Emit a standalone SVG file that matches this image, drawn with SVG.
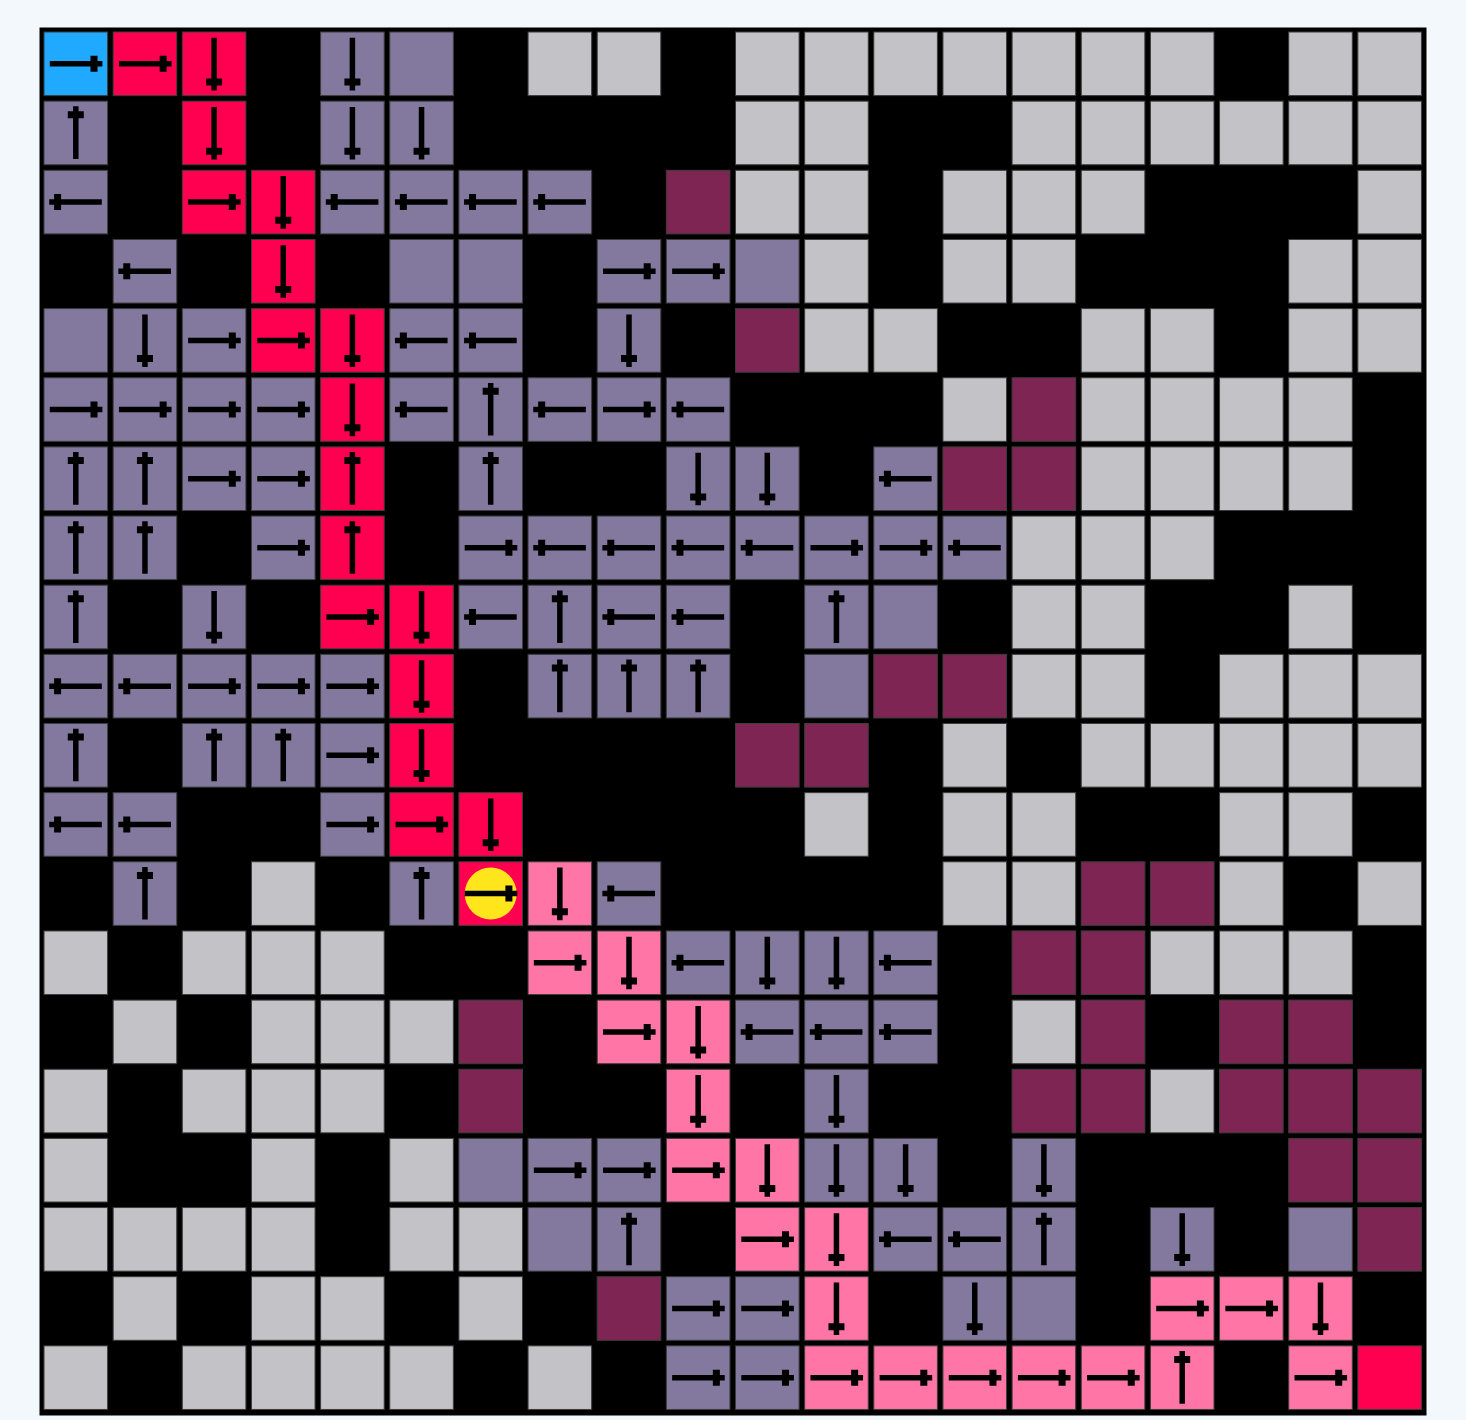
<svg xmlns="http://www.w3.org/2000/svg" xmlns:xlink="http://www.w3.org/1999/xlink" width="1466" height="1420" viewBox="0 0 1466 1420">
<style>
rect.c{stroke:#3c3c3c;stroke-width:1}
.b{fill:#1fa9ff}.r{fill:#ff0050}.p{fill:#83789d}.g{fill:#c3c3c7}.m{fill:#7f2553}.k{fill:#ff76a6}
.ar{fill:#000}
</style>
<defs>
<path id="R" class="ar" d="M5.8,29.05h52.6v5.5h-52.6z M46.5,23.8h7v16h-7z"/>
<g id="D"><use href="#R" transform="rotate(90 31.8 31.8)"/></g>
<g id="L"><use href="#R" transform="rotate(180 31.8 31.8)"/></g>
<g id="U"><use href="#R" transform="rotate(-90 31.8 31.8)"/></g>
</defs>
<rect x="0" y="0" width="1466" height="1420" fill="#f3f8fd"/>
<rect x="39.5" y="27.5" width="1387" height="1388" fill="#000"/>
<g id="grid">
<g id="row0" transform="translate(0 32)">
<g id="r0c0" transform="translate(44 0)"><rect class="c b" width="63.6" height="63.6"/><use href="#R"/></g>
<g id="r0c1" transform="translate(113.15 0)"><rect class="c r" width="63.6" height="63.6"/><use href="#R"/></g>
<g id="r0c2" transform="translate(182.3 0)"><rect class="c r" width="63.6" height="63.6"/><use href="#D"/></g>
<g id="r0c4" transform="translate(320.6 0)"><rect class="c p" width="63.6" height="63.6"/><use href="#D"/></g>
<g id="r0c5" transform="translate(389.75 0)"><rect class="c p" width="63.6" height="63.6"/></g>
<g id="r0c7" transform="translate(528.05 0)"><rect class="c g" width="63.6" height="63.6"/></g>
<g id="r0c8" transform="translate(597.2 0)"><rect class="c g" width="63.6" height="63.6"/></g>
<g id="r0c10" transform="translate(735.5 0)"><rect class="c g" width="63.6" height="63.6"/></g>
<g id="r0c11" transform="translate(804.65 0)"><rect class="c g" width="63.6" height="63.6"/></g>
<g id="r0c12" transform="translate(873.8 0)"><rect class="c g" width="63.6" height="63.6"/></g>
<g id="r0c13" transform="translate(942.95 0)"><rect class="c g" width="63.6" height="63.6"/></g>
<g id="r0c14" transform="translate(1012.1 0)"><rect class="c g" width="63.6" height="63.6"/></g>
<g id="r0c15" transform="translate(1081.25 0)"><rect class="c g" width="63.6" height="63.6"/></g>
<g id="r0c16" transform="translate(1150.4 0)"><rect class="c g" width="63.6" height="63.6"/></g>
<g id="r0c18" transform="translate(1288.7 0)"><rect class="c g" width="63.6" height="63.6"/></g>
<g id="r0c19" transform="translate(1357.85 0)"><rect class="c g" width="63.6" height="63.6"/></g>
</g>
<g id="row1" transform="translate(0 101.15)">
<g id="r1c0" transform="translate(44 0)"><rect class="c p" width="63.6" height="63.6"/><use href="#U"/></g>
<g id="r1c2" transform="translate(182.3 0)"><rect class="c r" width="63.6" height="63.6"/><use href="#D"/></g>
<g id="r1c4" transform="translate(320.6 0)"><rect class="c p" width="63.6" height="63.6"/><use href="#D"/></g>
<g id="r1c5" transform="translate(389.75 0)"><rect class="c p" width="63.6" height="63.6"/><use href="#D"/></g>
<g id="r1c10" transform="translate(735.5 0)"><rect class="c g" width="63.6" height="63.6"/></g>
<g id="r1c11" transform="translate(804.65 0)"><rect class="c g" width="63.6" height="63.6"/></g>
<g id="r1c14" transform="translate(1012.1 0)"><rect class="c g" width="63.6" height="63.6"/></g>
<g id="r1c15" transform="translate(1081.25 0)"><rect class="c g" width="63.6" height="63.6"/></g>
<g id="r1c16" transform="translate(1150.4 0)"><rect class="c g" width="63.6" height="63.6"/></g>
<g id="r1c17" transform="translate(1219.55 0)"><rect class="c g" width="63.6" height="63.6"/></g>
<g id="r1c18" transform="translate(1288.7 0)"><rect class="c g" width="63.6" height="63.6"/></g>
<g id="r1c19" transform="translate(1357.85 0)"><rect class="c g" width="63.6" height="63.6"/></g>
</g>
<g id="row2" transform="translate(0 170.3)">
<g id="r2c0" transform="translate(44 0)"><rect class="c p" width="63.6" height="63.6"/><use href="#L"/></g>
<g id="r2c2" transform="translate(182.3 0)"><rect class="c r" width="63.6" height="63.6"/><use href="#R"/></g>
<g id="r2c3" transform="translate(251.45 0)"><rect class="c r" width="63.6" height="63.6"/><use href="#D"/></g>
<g id="r2c4" transform="translate(320.6 0)"><rect class="c p" width="63.6" height="63.6"/><use href="#L"/></g>
<g id="r2c5" transform="translate(389.75 0)"><rect class="c p" width="63.6" height="63.6"/><use href="#L"/></g>
<g id="r2c6" transform="translate(458.9 0)"><rect class="c p" width="63.6" height="63.6"/><use href="#L"/></g>
<g id="r2c7" transform="translate(528.05 0)"><rect class="c p" width="63.6" height="63.6"/><use href="#L"/></g>
<g id="r2c9" transform="translate(666.35 0)"><rect class="c m" width="63.6" height="63.6"/></g>
<g id="r2c10" transform="translate(735.5 0)"><rect class="c g" width="63.6" height="63.6"/></g>
<g id="r2c11" transform="translate(804.65 0)"><rect class="c g" width="63.6" height="63.6"/></g>
<g id="r2c13" transform="translate(942.95 0)"><rect class="c g" width="63.6" height="63.6"/></g>
<g id="r2c14" transform="translate(1012.1 0)"><rect class="c g" width="63.6" height="63.6"/></g>
<g id="r2c15" transform="translate(1081.25 0)"><rect class="c g" width="63.6" height="63.6"/></g>
<g id="r2c19" transform="translate(1357.85 0)"><rect class="c g" width="63.6" height="63.6"/></g>
</g>
<g id="row3" transform="translate(0 239.45)">
<g id="r3c1" transform="translate(113.15 0)"><rect class="c p" width="63.6" height="63.6"/><use href="#L"/></g>
<g id="r3c3" transform="translate(251.45 0)"><rect class="c r" width="63.6" height="63.6"/><use href="#D"/></g>
<g id="r3c5" transform="translate(389.75 0)"><rect class="c p" width="63.6" height="63.6"/></g>
<g id="r3c6" transform="translate(458.9 0)"><rect class="c p" width="63.6" height="63.6"/></g>
<g id="r3c8" transform="translate(597.2 0)"><rect class="c p" width="63.6" height="63.6"/><use href="#R"/></g>
<g id="r3c9" transform="translate(666.35 0)"><rect class="c p" width="63.6" height="63.6"/><use href="#R"/></g>
<g id="r3c10" transform="translate(735.5 0)"><rect class="c p" width="63.6" height="63.6"/></g>
<g id="r3c11" transform="translate(804.65 0)"><rect class="c g" width="63.6" height="63.6"/></g>
<g id="r3c13" transform="translate(942.95 0)"><rect class="c g" width="63.6" height="63.6"/></g>
<g id="r3c14" transform="translate(1012.1 0)"><rect class="c g" width="63.6" height="63.6"/></g>
<g id="r3c18" transform="translate(1288.7 0)"><rect class="c g" width="63.6" height="63.6"/></g>
<g id="r3c19" transform="translate(1357.85 0)"><rect class="c g" width="63.6" height="63.6"/></g>
</g>
<g id="row4" transform="translate(0 308.6)">
<g id="r4c0" transform="translate(44 0)"><rect class="c p" width="63.6" height="63.6"/></g>
<g id="r4c1" transform="translate(113.15 0)"><rect class="c p" width="63.6" height="63.6"/><use href="#D"/></g>
<g id="r4c2" transform="translate(182.3 0)"><rect class="c p" width="63.6" height="63.6"/><use href="#R"/></g>
<g id="r4c3" transform="translate(251.45 0)"><rect class="c r" width="63.6" height="63.6"/><use href="#R"/></g>
<g id="r4c4" transform="translate(320.6 0)"><rect class="c r" width="63.6" height="63.6"/><use href="#D"/></g>
<g id="r4c5" transform="translate(389.75 0)"><rect class="c p" width="63.6" height="63.6"/><use href="#L"/></g>
<g id="r4c6" transform="translate(458.9 0)"><rect class="c p" width="63.6" height="63.6"/><use href="#L"/></g>
<g id="r4c8" transform="translate(597.2 0)"><rect class="c p" width="63.6" height="63.6"/><use href="#D"/></g>
<g id="r4c10" transform="translate(735.5 0)"><rect class="c m" width="63.6" height="63.6"/></g>
<g id="r4c11" transform="translate(804.65 0)"><rect class="c g" width="63.6" height="63.6"/></g>
<g id="r4c12" transform="translate(873.8 0)"><rect class="c g" width="63.6" height="63.6"/></g>
<g id="r4c15" transform="translate(1081.25 0)"><rect class="c g" width="63.6" height="63.6"/></g>
<g id="r4c16" transform="translate(1150.4 0)"><rect class="c g" width="63.6" height="63.6"/></g>
<g id="r4c18" transform="translate(1288.7 0)"><rect class="c g" width="63.6" height="63.6"/></g>
<g id="r4c19" transform="translate(1357.85 0)"><rect class="c g" width="63.6" height="63.6"/></g>
</g>
<g id="row5" transform="translate(0 377.75)">
<g id="r5c0" transform="translate(44 0)"><rect class="c p" width="63.6" height="63.6"/><use href="#R"/></g>
<g id="r5c1" transform="translate(113.15 0)"><rect class="c p" width="63.6" height="63.6"/><use href="#R"/></g>
<g id="r5c2" transform="translate(182.3 0)"><rect class="c p" width="63.6" height="63.6"/><use href="#R"/></g>
<g id="r5c3" transform="translate(251.45 0)"><rect class="c p" width="63.6" height="63.6"/><use href="#R"/></g>
<g id="r5c4" transform="translate(320.6 0)"><rect class="c r" width="63.6" height="63.6"/><use href="#D"/></g>
<g id="r5c5" transform="translate(389.75 0)"><rect class="c p" width="63.6" height="63.6"/><use href="#L"/></g>
<g id="r5c6" transform="translate(458.9 0)"><rect class="c p" width="63.6" height="63.6"/><use href="#U"/></g>
<g id="r5c7" transform="translate(528.05 0)"><rect class="c p" width="63.6" height="63.6"/><use href="#L"/></g>
<g id="r5c8" transform="translate(597.2 0)"><rect class="c p" width="63.6" height="63.6"/><use href="#R"/></g>
<g id="r5c9" transform="translate(666.35 0)"><rect class="c p" width="63.6" height="63.6"/><use href="#L"/></g>
<g id="r5c13" transform="translate(942.95 0)"><rect class="c g" width="63.6" height="63.6"/></g>
<g id="r5c14" transform="translate(1012.1 0)"><rect class="c m" width="63.6" height="63.6"/></g>
<g id="r5c15" transform="translate(1081.25 0)"><rect class="c g" width="63.6" height="63.6"/></g>
<g id="r5c16" transform="translate(1150.4 0)"><rect class="c g" width="63.6" height="63.6"/></g>
<g id="r5c17" transform="translate(1219.55 0)"><rect class="c g" width="63.6" height="63.6"/></g>
<g id="r5c18" transform="translate(1288.7 0)"><rect class="c g" width="63.6" height="63.6"/></g>
</g>
<g id="row6" transform="translate(0 446.9)">
<g id="r6c0" transform="translate(44 0)"><rect class="c p" width="63.6" height="63.6"/><use href="#U"/></g>
<g id="r6c1" transform="translate(113.15 0)"><rect class="c p" width="63.6" height="63.6"/><use href="#U"/></g>
<g id="r6c2" transform="translate(182.3 0)"><rect class="c p" width="63.6" height="63.6"/><use href="#R"/></g>
<g id="r6c3" transform="translate(251.45 0)"><rect class="c p" width="63.6" height="63.6"/><use href="#R"/></g>
<g id="r6c4" transform="translate(320.6 0)"><rect class="c r" width="63.6" height="63.6"/><use href="#U"/></g>
<g id="r6c6" transform="translate(458.9 0)"><rect class="c p" width="63.6" height="63.6"/><use href="#U"/></g>
<g id="r6c9" transform="translate(666.35 0)"><rect class="c p" width="63.6" height="63.6"/><use href="#D"/></g>
<g id="r6c10" transform="translate(735.5 0)"><rect class="c p" width="63.6" height="63.6"/><use href="#D"/></g>
<g id="r6c12" transform="translate(873.8 0)"><rect class="c p" width="63.6" height="63.6"/><use href="#L"/></g>
<g id="r6c13" transform="translate(942.95 0)"><rect class="c m" width="63.6" height="63.6"/></g>
<g id="r6c14" transform="translate(1012.1 0)"><rect class="c m" width="63.6" height="63.6"/></g>
<g id="r6c15" transform="translate(1081.25 0)"><rect class="c g" width="63.6" height="63.6"/></g>
<g id="r6c16" transform="translate(1150.4 0)"><rect class="c g" width="63.6" height="63.6"/></g>
<g id="r6c17" transform="translate(1219.55 0)"><rect class="c g" width="63.6" height="63.6"/></g>
<g id="r6c18" transform="translate(1288.7 0)"><rect class="c g" width="63.6" height="63.6"/></g>
</g>
<g id="row7" transform="translate(0 516.05)">
<g id="r7c0" transform="translate(44 0)"><rect class="c p" width="63.6" height="63.6"/><use href="#U"/></g>
<g id="r7c1" transform="translate(113.15 0)"><rect class="c p" width="63.6" height="63.6"/><use href="#U"/></g>
<g id="r7c3" transform="translate(251.45 0)"><rect class="c p" width="63.6" height="63.6"/><use href="#R"/></g>
<g id="r7c4" transform="translate(320.6 0)"><rect class="c r" width="63.6" height="63.6"/><use href="#U"/></g>
<g id="r7c6" transform="translate(458.9 0)"><rect class="c p" width="63.6" height="63.6"/><use href="#R"/></g>
<g id="r7c7" transform="translate(528.05 0)"><rect class="c p" width="63.6" height="63.6"/><use href="#L"/></g>
<g id="r7c8" transform="translate(597.2 0)"><rect class="c p" width="63.6" height="63.6"/><use href="#L"/></g>
<g id="r7c9" transform="translate(666.35 0)"><rect class="c p" width="63.6" height="63.6"/><use href="#L"/></g>
<g id="r7c10" transform="translate(735.5 0)"><rect class="c p" width="63.6" height="63.6"/><use href="#L"/></g>
<g id="r7c11" transform="translate(804.65 0)"><rect class="c p" width="63.6" height="63.6"/><use href="#R"/></g>
<g id="r7c12" transform="translate(873.8 0)"><rect class="c p" width="63.6" height="63.6"/><use href="#R"/></g>
<g id="r7c13" transform="translate(942.95 0)"><rect class="c p" width="63.6" height="63.6"/><use href="#L"/></g>
<g id="r7c14" transform="translate(1012.1 0)"><rect class="c g" width="63.6" height="63.6"/></g>
<g id="r7c15" transform="translate(1081.25 0)"><rect class="c g" width="63.6" height="63.6"/></g>
<g id="r7c16" transform="translate(1150.4 0)"><rect class="c g" width="63.6" height="63.6"/></g>
</g>
<g id="row8" transform="translate(0 585.2)">
<g id="r8c0" transform="translate(44 0)"><rect class="c p" width="63.6" height="63.6"/><use href="#U"/></g>
<g id="r8c2" transform="translate(182.3 0)"><rect class="c p" width="63.6" height="63.6"/><use href="#D"/></g>
<g id="r8c4" transform="translate(320.6 0)"><rect class="c r" width="63.6" height="63.6"/><use href="#R"/></g>
<g id="r8c5" transform="translate(389.75 0)"><rect class="c r" width="63.6" height="63.6"/><use href="#D"/></g>
<g id="r8c6" transform="translate(458.9 0)"><rect class="c p" width="63.6" height="63.6"/><use href="#L"/></g>
<g id="r8c7" transform="translate(528.05 0)"><rect class="c p" width="63.6" height="63.6"/><use href="#U"/></g>
<g id="r8c8" transform="translate(597.2 0)"><rect class="c p" width="63.6" height="63.6"/><use href="#L"/></g>
<g id="r8c9" transform="translate(666.35 0)"><rect class="c p" width="63.6" height="63.6"/><use href="#L"/></g>
<g id="r8c11" transform="translate(804.65 0)"><rect class="c p" width="63.6" height="63.6"/><use href="#U"/></g>
<g id="r8c12" transform="translate(873.8 0)"><rect class="c p" width="63.6" height="63.6"/></g>
<g id="r8c14" transform="translate(1012.1 0)"><rect class="c g" width="63.6" height="63.6"/></g>
<g id="r8c15" transform="translate(1081.25 0)"><rect class="c g" width="63.6" height="63.6"/></g>
<g id="r8c18" transform="translate(1288.7 0)"><rect class="c g" width="63.6" height="63.6"/></g>
</g>
<g id="row9" transform="translate(0 654.35)">
<g id="r9c0" transform="translate(44 0)"><rect class="c p" width="63.6" height="63.6"/><use href="#L"/></g>
<g id="r9c1" transform="translate(113.15 0)"><rect class="c p" width="63.6" height="63.6"/><use href="#L"/></g>
<g id="r9c2" transform="translate(182.3 0)"><rect class="c p" width="63.6" height="63.6"/><use href="#R"/></g>
<g id="r9c3" transform="translate(251.45 0)"><rect class="c p" width="63.6" height="63.6"/><use href="#R"/></g>
<g id="r9c4" transform="translate(320.6 0)"><rect class="c p" width="63.6" height="63.6"/><use href="#R"/></g>
<g id="r9c5" transform="translate(389.75 0)"><rect class="c r" width="63.6" height="63.6"/><use href="#D"/></g>
<g id="r9c7" transform="translate(528.05 0)"><rect class="c p" width="63.6" height="63.6"/><use href="#U"/></g>
<g id="r9c8" transform="translate(597.2 0)"><rect class="c p" width="63.6" height="63.6"/><use href="#U"/></g>
<g id="r9c9" transform="translate(666.35 0)"><rect class="c p" width="63.6" height="63.6"/><use href="#U"/></g>
<g id="r9c11" transform="translate(804.65 0)"><rect class="c p" width="63.6" height="63.6"/></g>
<g id="r9c12" transform="translate(873.8 0)"><rect class="c m" width="63.6" height="63.6"/></g>
<g id="r9c13" transform="translate(942.95 0)"><rect class="c m" width="63.6" height="63.6"/></g>
<g id="r9c14" transform="translate(1012.1 0)"><rect class="c g" width="63.6" height="63.6"/></g>
<g id="r9c15" transform="translate(1081.25 0)"><rect class="c g" width="63.6" height="63.6"/></g>
<g id="r9c17" transform="translate(1219.55 0)"><rect class="c g" width="63.6" height="63.6"/></g>
<g id="r9c18" transform="translate(1288.7 0)"><rect class="c g" width="63.6" height="63.6"/></g>
<g id="r9c19" transform="translate(1357.85 0)"><rect class="c g" width="63.6" height="63.6"/></g>
</g>
<g id="row10" transform="translate(0 723.5)">
<g id="r10c0" transform="translate(44 0)"><rect class="c p" width="63.6" height="63.6"/><use href="#U"/></g>
<g id="r10c2" transform="translate(182.3 0)"><rect class="c p" width="63.6" height="63.6"/><use href="#U"/></g>
<g id="r10c3" transform="translate(251.45 0)"><rect class="c p" width="63.6" height="63.6"/><use href="#U"/></g>
<g id="r10c4" transform="translate(320.6 0)"><rect class="c p" width="63.6" height="63.6"/><use href="#R"/></g>
<g id="r10c5" transform="translate(389.75 0)"><rect class="c r" width="63.6" height="63.6"/><use href="#D"/></g>
<g id="r10c10" transform="translate(735.5 0)"><rect class="c m" width="63.6" height="63.6"/></g>
<g id="r10c11" transform="translate(804.65 0)"><rect class="c m" width="63.6" height="63.6"/></g>
<g id="r10c13" transform="translate(942.95 0)"><rect class="c g" width="63.6" height="63.6"/></g>
<g id="r10c15" transform="translate(1081.25 0)"><rect class="c g" width="63.6" height="63.6"/></g>
<g id="r10c16" transform="translate(1150.4 0)"><rect class="c g" width="63.6" height="63.6"/></g>
<g id="r10c17" transform="translate(1219.55 0)"><rect class="c g" width="63.6" height="63.6"/></g>
<g id="r10c18" transform="translate(1288.7 0)"><rect class="c g" width="63.6" height="63.6"/></g>
<g id="r10c19" transform="translate(1357.85 0)"><rect class="c g" width="63.6" height="63.6"/></g>
</g>
<g id="row11" transform="translate(0 792.65)">
<g id="r11c0" transform="translate(44 0)"><rect class="c p" width="63.6" height="63.6"/><use href="#L"/></g>
<g id="r11c1" transform="translate(113.15 0)"><rect class="c p" width="63.6" height="63.6"/><use href="#L"/></g>
<g id="r11c4" transform="translate(320.6 0)"><rect class="c p" width="63.6" height="63.6"/><use href="#R"/></g>
<g id="r11c5" transform="translate(389.75 0)"><rect class="c r" width="63.6" height="63.6"/><use href="#R"/></g>
<g id="r11c6" transform="translate(458.9 0)"><rect class="c r" width="63.6" height="63.6"/><use href="#D"/></g>
<g id="r11c11" transform="translate(804.65 0)"><rect class="c g" width="63.6" height="63.6"/></g>
<g id="r11c13" transform="translate(942.95 0)"><rect class="c g" width="63.6" height="63.6"/></g>
<g id="r11c14" transform="translate(1012.1 0)"><rect class="c g" width="63.6" height="63.6"/></g>
<g id="r11c17" transform="translate(1219.55 0)"><rect class="c g" width="63.6" height="63.6"/></g>
<g id="r11c18" transform="translate(1288.7 0)"><rect class="c g" width="63.6" height="63.6"/></g>
</g>
<g id="row12" transform="translate(0 861.8)">
<g id="r12c1" transform="translate(113.15 0)"><rect class="c p" width="63.6" height="63.6"/><use href="#U"/></g>
<g id="r12c3" transform="translate(251.45 0)"><rect class="c g" width="63.6" height="63.6"/></g>
<g id="r12c5" transform="translate(389.75 0)"><rect class="c p" width="63.6" height="63.6"/><use href="#U"/></g>
<g id="r12c6" transform="translate(458.9 0)"><rect class="c r" width="63.6" height="63.6"/><circle cx="31.8" cy="31.8" r="26" fill="#ffe61c"/><use href="#R"/></g>
<g id="r12c7" transform="translate(528.05 0)"><rect class="c k" width="63.6" height="63.6"/><use href="#D"/></g>
<g id="r12c8" transform="translate(597.2 0)"><rect class="c p" width="63.6" height="63.6"/><use href="#L"/></g>
<g id="r12c13" transform="translate(942.95 0)"><rect class="c g" width="63.6" height="63.6"/></g>
<g id="r12c14" transform="translate(1012.1 0)"><rect class="c g" width="63.6" height="63.6"/></g>
<g id="r12c15" transform="translate(1081.25 0)"><rect class="c m" width="63.6" height="63.6"/></g>
<g id="r12c16" transform="translate(1150.4 0)"><rect class="c m" width="63.6" height="63.6"/></g>
<g id="r12c17" transform="translate(1219.55 0)"><rect class="c g" width="63.6" height="63.6"/></g>
<g id="r12c19" transform="translate(1357.85 0)"><rect class="c g" width="63.6" height="63.6"/></g>
</g>
<g id="row13" transform="translate(0 930.95)">
<g id="r13c0" transform="translate(44 0)"><rect class="c g" width="63.6" height="63.6"/></g>
<g id="r13c2" transform="translate(182.3 0)"><rect class="c g" width="63.6" height="63.6"/></g>
<g id="r13c3" transform="translate(251.45 0)"><rect class="c g" width="63.6" height="63.6"/></g>
<g id="r13c4" transform="translate(320.6 0)"><rect class="c g" width="63.6" height="63.6"/></g>
<g id="r13c7" transform="translate(528.05 0)"><rect class="c k" width="63.6" height="63.6"/><use href="#R"/></g>
<g id="r13c8" transform="translate(597.2 0)"><rect class="c k" width="63.6" height="63.6"/><use href="#D"/></g>
<g id="r13c9" transform="translate(666.35 0)"><rect class="c p" width="63.6" height="63.6"/><use href="#L"/></g>
<g id="r13c10" transform="translate(735.5 0)"><rect class="c p" width="63.6" height="63.6"/><use href="#D"/></g>
<g id="r13c11" transform="translate(804.65 0)"><rect class="c p" width="63.6" height="63.6"/><use href="#D"/></g>
<g id="r13c12" transform="translate(873.8 0)"><rect class="c p" width="63.6" height="63.6"/><use href="#L"/></g>
<g id="r13c14" transform="translate(1012.1 0)"><rect class="c m" width="63.6" height="63.6"/></g>
<g id="r13c15" transform="translate(1081.25 0)"><rect class="c m" width="63.6" height="63.6"/></g>
<g id="r13c16" transform="translate(1150.4 0)"><rect class="c g" width="63.6" height="63.6"/></g>
<g id="r13c17" transform="translate(1219.55 0)"><rect class="c g" width="63.6" height="63.6"/></g>
<g id="r13c18" transform="translate(1288.7 0)"><rect class="c g" width="63.6" height="63.6"/></g>
</g>
<g id="row14" transform="translate(0 1000.1)">
<g id="r14c1" transform="translate(113.15 0)"><rect class="c g" width="63.6" height="63.6"/></g>
<g id="r14c3" transform="translate(251.45 0)"><rect class="c g" width="63.6" height="63.6"/></g>
<g id="r14c4" transform="translate(320.6 0)"><rect class="c g" width="63.6" height="63.6"/></g>
<g id="r14c5" transform="translate(389.75 0)"><rect class="c g" width="63.6" height="63.6"/></g>
<g id="r14c6" transform="translate(458.9 0)"><rect class="c m" width="63.6" height="63.6"/></g>
<g id="r14c8" transform="translate(597.2 0)"><rect class="c k" width="63.6" height="63.6"/><use href="#R"/></g>
<g id="r14c9" transform="translate(666.35 0)"><rect class="c k" width="63.6" height="63.6"/><use href="#D"/></g>
<g id="r14c10" transform="translate(735.5 0)"><rect class="c p" width="63.6" height="63.6"/><use href="#L"/></g>
<g id="r14c11" transform="translate(804.65 0)"><rect class="c p" width="63.6" height="63.6"/><use href="#L"/></g>
<g id="r14c12" transform="translate(873.8 0)"><rect class="c p" width="63.6" height="63.6"/><use href="#L"/></g>
<g id="r14c14" transform="translate(1012.1 0)"><rect class="c g" width="63.6" height="63.6"/></g>
<g id="r14c15" transform="translate(1081.25 0)"><rect class="c m" width="63.6" height="63.6"/></g>
<g id="r14c17" transform="translate(1219.55 0)"><rect class="c m" width="63.6" height="63.6"/></g>
<g id="r14c18" transform="translate(1288.7 0)"><rect class="c m" width="63.6" height="63.6"/></g>
</g>
<g id="row15" transform="translate(0 1069.25)">
<g id="r15c0" transform="translate(44 0)"><rect class="c g" width="63.6" height="63.6"/></g>
<g id="r15c2" transform="translate(182.3 0)"><rect class="c g" width="63.6" height="63.6"/></g>
<g id="r15c3" transform="translate(251.45 0)"><rect class="c g" width="63.6" height="63.6"/></g>
<g id="r15c4" transform="translate(320.6 0)"><rect class="c g" width="63.6" height="63.6"/></g>
<g id="r15c6" transform="translate(458.9 0)"><rect class="c m" width="63.6" height="63.6"/></g>
<g id="r15c9" transform="translate(666.35 0)"><rect class="c k" width="63.6" height="63.6"/><use href="#D"/></g>
<g id="r15c11" transform="translate(804.65 0)"><rect class="c p" width="63.6" height="63.6"/><use href="#D"/></g>
<g id="r15c14" transform="translate(1012.1 0)"><rect class="c m" width="63.6" height="63.6"/></g>
<g id="r15c15" transform="translate(1081.25 0)"><rect class="c m" width="63.6" height="63.6"/></g>
<g id="r15c16" transform="translate(1150.4 0)"><rect class="c g" width="63.6" height="63.6"/></g>
<g id="r15c17" transform="translate(1219.55 0)"><rect class="c m" width="63.6" height="63.6"/></g>
<g id="r15c18" transform="translate(1288.7 0)"><rect class="c m" width="63.6" height="63.6"/></g>
<g id="r15c19" transform="translate(1357.85 0)"><rect class="c m" width="63.6" height="63.6"/></g>
</g>
<g id="row16" transform="translate(0 1138.4)">
<g id="r16c0" transform="translate(44 0)"><rect class="c g" width="63.6" height="63.6"/></g>
<g id="r16c3" transform="translate(251.45 0)"><rect class="c g" width="63.6" height="63.6"/></g>
<g id="r16c5" transform="translate(389.75 0)"><rect class="c g" width="63.6" height="63.6"/></g>
<g id="r16c6" transform="translate(458.9 0)"><rect class="c p" width="63.6" height="63.6"/></g>
<g id="r16c7" transform="translate(528.05 0)"><rect class="c p" width="63.6" height="63.6"/><use href="#R"/></g>
<g id="r16c8" transform="translate(597.2 0)"><rect class="c p" width="63.6" height="63.6"/><use href="#R"/></g>
<g id="r16c9" transform="translate(666.35 0)"><rect class="c k" width="63.6" height="63.6"/><use href="#R"/></g>
<g id="r16c10" transform="translate(735.5 0)"><rect class="c k" width="63.6" height="63.6"/><use href="#D"/></g>
<g id="r16c11" transform="translate(804.65 0)"><rect class="c p" width="63.6" height="63.6"/><use href="#D"/></g>
<g id="r16c12" transform="translate(873.8 0)"><rect class="c p" width="63.6" height="63.6"/><use href="#D"/></g>
<g id="r16c14" transform="translate(1012.1 0)"><rect class="c p" width="63.6" height="63.6"/><use href="#D"/></g>
<g id="r16c18" transform="translate(1288.7 0)"><rect class="c m" width="63.6" height="63.6"/></g>
<g id="r16c19" transform="translate(1357.85 0)"><rect class="c m" width="63.6" height="63.6"/></g>
</g>
<g id="row17" transform="translate(0 1207.55)">
<g id="r17c0" transform="translate(44 0)"><rect class="c g" width="63.6" height="63.6"/></g>
<g id="r17c1" transform="translate(113.15 0)"><rect class="c g" width="63.6" height="63.6"/></g>
<g id="r17c2" transform="translate(182.3 0)"><rect class="c g" width="63.6" height="63.6"/></g>
<g id="r17c3" transform="translate(251.45 0)"><rect class="c g" width="63.6" height="63.6"/></g>
<g id="r17c5" transform="translate(389.75 0)"><rect class="c g" width="63.6" height="63.6"/></g>
<g id="r17c6" transform="translate(458.9 0)"><rect class="c g" width="63.6" height="63.6"/></g>
<g id="r17c7" transform="translate(528.05 0)"><rect class="c p" width="63.6" height="63.6"/></g>
<g id="r17c8" transform="translate(597.2 0)"><rect class="c p" width="63.6" height="63.6"/><use href="#U"/></g>
<g id="r17c10" transform="translate(735.5 0)"><rect class="c k" width="63.6" height="63.6"/><use href="#R"/></g>
<g id="r17c11" transform="translate(804.65 0)"><rect class="c k" width="63.6" height="63.6"/><use href="#D"/></g>
<g id="r17c12" transform="translate(873.8 0)"><rect class="c p" width="63.6" height="63.6"/><use href="#L"/></g>
<g id="r17c13" transform="translate(942.95 0)"><rect class="c p" width="63.6" height="63.6"/><use href="#L"/></g>
<g id="r17c14" transform="translate(1012.1 0)"><rect class="c p" width="63.6" height="63.6"/><use href="#U"/></g>
<g id="r17c16" transform="translate(1150.4 0)"><rect class="c p" width="63.6" height="63.6"/><use href="#D"/></g>
<g id="r17c18" transform="translate(1288.7 0)"><rect class="c p" width="63.6" height="63.6"/></g>
<g id="r17c19" transform="translate(1357.85 0)"><rect class="c m" width="63.6" height="63.6"/></g>
</g>
<g id="row18" transform="translate(0 1276.7)">
<g id="r18c1" transform="translate(113.15 0)"><rect class="c g" width="63.6" height="63.6"/></g>
<g id="r18c3" transform="translate(251.45 0)"><rect class="c g" width="63.6" height="63.6"/></g>
<g id="r18c4" transform="translate(320.6 0)"><rect class="c g" width="63.6" height="63.6"/></g>
<g id="r18c6" transform="translate(458.9 0)"><rect class="c g" width="63.6" height="63.6"/></g>
<g id="r18c8" transform="translate(597.2 0)"><rect class="c m" width="63.6" height="63.6"/></g>
<g id="r18c9" transform="translate(666.35 0)"><rect class="c p" width="63.6" height="63.6"/><use href="#R"/></g>
<g id="r18c10" transform="translate(735.5 0)"><rect class="c p" width="63.6" height="63.6"/><use href="#R"/></g>
<g id="r18c11" transform="translate(804.65 0)"><rect class="c k" width="63.6" height="63.6"/><use href="#D"/></g>
<g id="r18c13" transform="translate(942.95 0)"><rect class="c p" width="63.6" height="63.6"/><use href="#D"/></g>
<g id="r18c14" transform="translate(1012.1 0)"><rect class="c p" width="63.6" height="63.6"/></g>
<g id="r18c16" transform="translate(1150.4 0)"><rect class="c k" width="63.6" height="63.6"/><use href="#R"/></g>
<g id="r18c17" transform="translate(1219.55 0)"><rect class="c k" width="63.6" height="63.6"/><use href="#R"/></g>
<g id="r18c18" transform="translate(1288.7 0)"><rect class="c k" width="63.6" height="63.6"/><use href="#D"/></g>
</g>
<g id="row19" transform="translate(0 1345.85)">
<g id="r19c0" transform="translate(44 0)"><rect class="c g" width="63.6" height="63.6"/></g>
<g id="r19c2" transform="translate(182.3 0)"><rect class="c g" width="63.6" height="63.6"/></g>
<g id="r19c3" transform="translate(251.45 0)"><rect class="c g" width="63.6" height="63.6"/></g>
<g id="r19c4" transform="translate(320.6 0)"><rect class="c g" width="63.6" height="63.6"/></g>
<g id="r19c5" transform="translate(389.75 0)"><rect class="c g" width="63.6" height="63.6"/></g>
<g id="r19c7" transform="translate(528.05 0)"><rect class="c g" width="63.6" height="63.6"/></g>
<g id="r19c9" transform="translate(666.35 0)"><rect class="c p" width="63.6" height="63.6"/><use href="#R"/></g>
<g id="r19c10" transform="translate(735.5 0)"><rect class="c p" width="63.6" height="63.6"/><use href="#R"/></g>
<g id="r19c11" transform="translate(804.65 0)"><rect class="c k" width="63.6" height="63.6"/><use href="#R"/></g>
<g id="r19c12" transform="translate(873.8 0)"><rect class="c k" width="63.6" height="63.6"/><use href="#R"/></g>
<g id="r19c13" transform="translate(942.95 0)"><rect class="c k" width="63.6" height="63.6"/><use href="#R"/></g>
<g id="r19c14" transform="translate(1012.1 0)"><rect class="c k" width="63.6" height="63.6"/><use href="#R"/></g>
<g id="r19c15" transform="translate(1081.25 0)"><rect class="c k" width="63.6" height="63.6"/><use href="#R"/></g>
<g id="r19c16" transform="translate(1150.4 0)"><rect class="c k" width="63.6" height="63.6"/><use href="#U"/></g>
<g id="r19c18" transform="translate(1288.7 0)"><rect class="c k" width="63.6" height="63.6"/><use href="#R"/></g>
<g id="r19c19" transform="translate(1357.85 0)"><rect class="c r" width="63.6" height="63.6"/></g>
</g>
</g>
</svg>
